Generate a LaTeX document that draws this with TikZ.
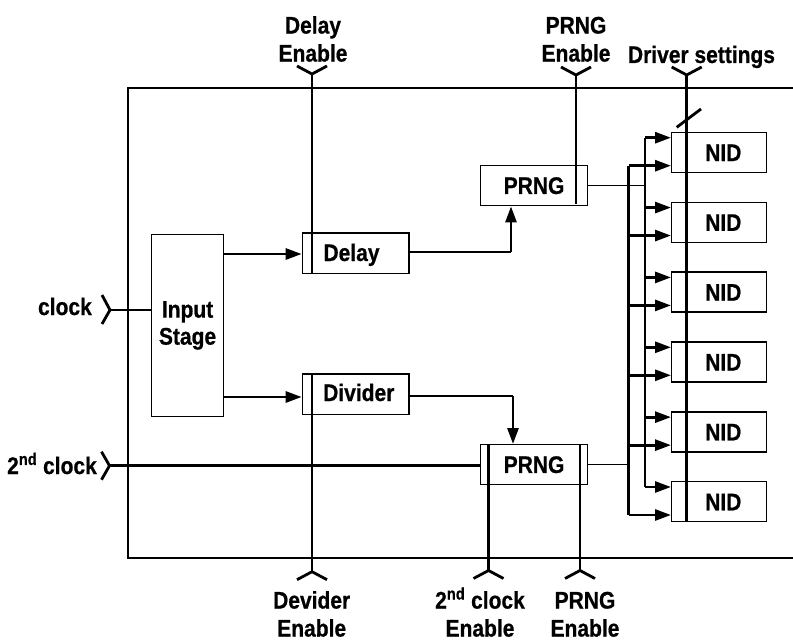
\documentclass[tikz,border=0pt]{standalone}
\usepackage{fontspec}
\setmainfont{Liberation Sans}[FakeStretch=0.875,BoldFeatures={FakeBold=0.7}]
\usetikzlibrary{arrows.meta,calc}
\begin{document}
\begin{tikzpicture}[x=1pt,y=-1pt,
  box/.style={draw,line width=1.4pt,inner sep=0pt,anchor=north west},
  txt/.style={font=\fontsize{24}{28}\selectfont\bfseries,inner sep=0pt},
  thinln/.style={line width=1.4pt},
  thk/.style={line width=2.8pt},
  arr/.style={-{Triangle[length=16pt,width=11pt]}},
  fork/.style={line width=2.8pt,line join=miter}
]
\useasboundingbox (0,0) rectangle (793,642);

% outer frame (right side cut off by the picture edge)
\draw[thinln] (793,88) -- (128,88) -- (128,558) -- (793,558);

% blocks
\node[box,txt,align=center,minimum width=72.3pt,minimum height=182pt] (input) at (150.7,233.7) {Input\\[-1pt]Stage};
\node[box,minimum width=106.6pt,minimum height=40.4pt] (delay) at (301.7,232.3) {};
\node[txt,anchor=base west] (delaytxt) at (323.3,261) {Delay};
\node[box,minimum width=106.6pt,minimum height=40.7pt] (divider) at (301.7,373.3) {};
\node[txt,anchor=base west] (dividertxt) at (323,401) {Divider};
\node[box,txt,minimum width=106.7pt,minimum height=40pt] (prng1) at (480,165) {PRNG};
\node[box,txt,minimum width=106.7pt,minimum height=40pt] (prng2) at (480,444) {PRNG};

% bus coordinates
\coordinate (busA) at (645,0);
\coordinate (busB) at (628.5,0);

\foreach \i in {1,...,6}{
  \pgfmathsetmacro\t{131.7+69.86*(\i-1)}
  \pgfmathsetmacro\b{\t+29.3}
  \node[box,minimum width=95pt,minimum height=40pt] (nid\i) at (671,\t) {};
  \node[txt,anchor=base west] (nidtxt\i) at (705,\b) {NID};
  \coordinate (ua\i) at ($(nid\i.north west)+(0,6)$);
  \coordinate (la\i) at ($(nid\i.north west)+(0,34)$);
  \draw[thk,arr] (ua\i -| busA) -- (ua\i);
  \draw[thk,arr] (la\i -| busB) -- (la\i);
}
\draw[thk] (busA |- ua1) -- (busA |- ua6);
\draw[thk] (busB |- la1) -- (busB |- la6);
\draw[thinln] (prng1.east) -- (prng1.east -| busA);
\draw[thinln] (prng2.east) -- (prng2.east -| busB);

% input stage to delay / divider
\draw[thk,arr] (input.east |- 0,254) -- (delay.west |- 0,254);
\draw[thk,arr] (input.east |- 0,397) -- (divider.west |- 0,397);

% delay -> PRNG (upper), divider -> PRNG (lower)
\coordinate (c1) at (511,252);
\draw[thinln] (delay.east |- c1) -- (c1);
\draw[thk,arr] (c1) -- (c1 |- prng1.south);
\coordinate (c2) at (513,396);
\draw[thinln] (divider.east |- c2) -- (c2);
\draw[thk,arr] (c2) -- (c2 |- prng2.north);

% clock inputs
\coordinate (ck) at (110,310);
\draw[thk] (ck) -- (ck -| input.west);
\draw[fork] ($(ck)+(-8,-15)$) -- (ck) -- ($(ck)+(-8,14)$);
\node[txt,anchor=base east] (clocktxt) at (92,315) {clock};
\coordinate (ck2) at (109.5,465.7);
\draw[thk] (ck2) -- (ck2 -| prng2.west);
\draw[fork] ($(ck2)+(-8,-14)$) -- (ck2) -- ($(ck2)+(-8,14)$);
\node[txt,anchor=base east] (clock2txt) at (97,474) {2\textsuperscript{nd} clock};

% top enable / settings inputs
\coordinate (de) at (312,74);
\draw[thk] (de) -- (de |- delay.south);
\draw[fork] ($(de)+(-15,-8)$) -- (de) -- ($(de)+(15,-8)$);
\node[txt,align=center,anchor=south] (detxt) at (313,62) {Delay\\Enable};

\coordinate (pe) at (576,75);
\draw[thk] (pe) -- ($(pe |- prng1.south)+(0,-2)$);
\draw[fork] ($(pe)+(-15,-8)$) -- (pe) -- ($(pe)+(15,-8)$);
\node[txt,align=center,anchor=south] (petxt) at (576,62) {PRNG\\Enable};

\coordinate (ds) at (686.7,75);
\draw[thk] (ds) -- (ds |- nid6.south);
\draw[fork] ($(ds)+(-15,-8)$) -- (ds) -- ($(ds)+(15,-8)$);
\draw[thk] (676.7,127.3) -- (701,109);
\node[txt,anchor=base] (dstxt) at (701.5,63) {Driver settings};

% bottom enable inputs
\coordinate (dv) at (312,571.7);
\draw[thk] (dv |- divider.north) -- (dv);
\draw[fork] ($(dv)+(-15,8)$) -- (dv) -- ($(dv)+(15,8)$);
\node[txt,align=center,anchor=south] (dvtxt) at (311.7,637) {Devider\\Enable};

\coordinate (ce) at (488.5,570.5);
\draw[thk] (ce |- prng2.north) -- (ce);
\draw[fork] ($(ce)+(-15,8)$) -- (ce) -- ($(ce)+(15,8)$);
\node[txt,align=center,anchor=south] (cetxt) at (480,637) {2\textsuperscript{nd} clock\\Enable};

\coordinate (pe2) at (580,570.5);
\draw[thk] (pe2 |- prng2.north) -- (pe2);
\draw[fork] ($(pe2)+(-15,8)$) -- (pe2) -- ($(pe2)+(15,8)$);
\node[txt,align=center,anchor=south] (pe2txt) at (585,637) {PRNG\\Enable};
\end{tikzpicture}
\end{document}
